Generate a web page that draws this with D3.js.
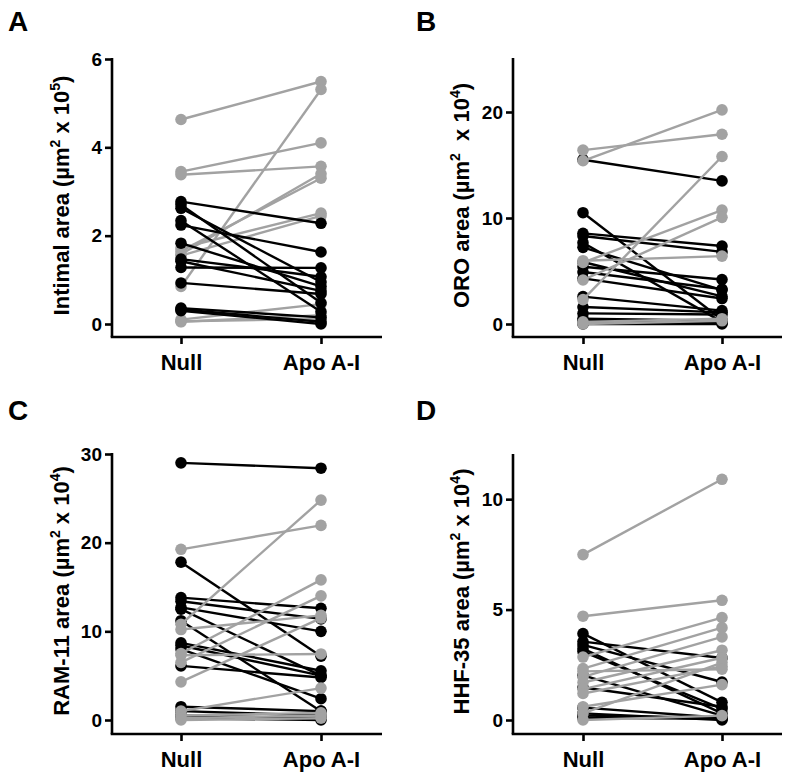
<!DOCTYPE html>
<html>
<head>
<meta charset="utf-8">
<script src="https://cdn.jsdelivr.net/npm/d3@7"></script>
<style>
  html, body { margin: 0; padding: 0; background: #fff; }
  svg { display: block; }
  text { font-family: "Liberation Sans", Arial, sans-serif; }
</style>
</head>
<body>
<svg id="chart" width="800" height="778"></svg>
<script>
// ---------------- DATA ----------------
const categories = ["Null", "Apo A-I"];

// Panel A: Intimal area (µm² x 10^5)
const intimalNull  = [4.63, 3.45, 3.38, 0.85, 1.65, 1.58, 1.72, 1.55, 0.10, 0.06, 0.05,
                      2.77, 2.70, 2.62, 2.34, 2.24, 1.83, 1.47, 1.42, 1.28, 0.93, 0.36, 0.33, 0.30];
const intimalApo   = [5.49, 4.10, 3.57, 5.31, 3.30, 3.40, 2.51, 2.45, 0.45, 0.12, 0.20,
                      2.28, 0.48, 0.95, 0.28, 1.63, 0.85, 1.07, 0.75, 1.27, 0.68, 0.15, 0.05, 0.00];
const intimalGroup = ["up","up","up","up","up","up","up","up","up","up","up",
                      "down","down","down","down","down","down","down","down","down","down","down","down","down"];
const intimalTicks = [0, 2, 4, 6];

// Panel B: ORO area (µm² x 10^4)
const oroNull  = [16.4, 15.4, 2.3, 5.8, 4.15, 5.97, 0.0, 0.2,
                  15.5, 10.5, 8.55, 8.3, 7.67, 7.23, 5.85, 5.4, 4.9, 4.3, 2.58, 1.6, 1.0, 0.5, 0.3, 0.0];
const oroApo   = [17.9, 20.2, 15.8, 10.75, 10.06, 6.4, 0.3, 0.5,
                  13.5, 0.4, 7.36, 6.8, 0.2, 3.2, 2.6, 4.2, 3.3, 2.4, 1.26, 1.1, 0.9, 0.3, 0.1, 0.0];
const oroGroup = ["up","up","up","up","up","up","up","up",
                  "down","down","down","down","down","down","down","down","down","down","down","down","down","down","down","down"];
const oroTicks = [0, 10, 20];

// Panel C: RAM-11 area (µm² x 10^4)
const ramNull  = [19.25, 10.8, 7.5, 6.5, 7.3, 4.3, 1.0, 0.5, 0.2, 0.0, 10.2,
                  29.0, 17.8, 13.8, 13.4, 12.7, 12.5, 11.2, 8.7, 8.4, 8.0, 6.1, 1.5, 1.0, 0.5, 0.2];
const ramApo   = [21.95, 24.8, 15.8, 14.0, 7.45, 11.5, 3.6, 0.8, 0.5, 0.2, 11.8,
                  28.4, 7.2, 12.6, 11.4, 10.0, 5.0, 1.0, 5.55, 5.0, 2.4, 4.8, 1.0, 0.5, 0.2, 0.0];
const ramGroup = ["up","up","up","up","up","up","up","up","up","up","up",
                  "down","down","down","down","down","down","down","down","down","down","down","down","down","down","down"];
const ramTicks = [0, 10, 20, 30];

// Panel D: HHF-35 area (µm² x 10^4)
const hhfNull  = [7.49, 4.7, 2.85, 2.33, 1.95, 1.7, 1.4, 1.2, 0.6, 0.3, 0.0, 2.2,
                  3.91, 3.55, 3.4, 3.23, 3.1, 2.02, 1.47, 0.56, 0.3, 0.1, 0.2];
const hhfApo   = [10.9, 5.42, 4.64, 4.18, 3.76, 3.16, 2.82, 2.43, 1.6, 2.6, 0.2, 2.3,
                  0.8, 2.81, 1.72, 0.3, 0.5, 0.2, 0.6, 0.1, 0.0, 0.05, 0.1];
const hhfGroup = ["up","up","up","up","up","up","up","up","up","up","up","up",
                  "down","down","down","down","down","down","down","down","down","down","down"];
const hhfTicks = [0, 5, 10];

const groupColor = { up: "#a2a2a2", down: "#000000" };

// ---------------- LAYOUT ----------------
const panels = [
  { letter: "A", name: "Intimal area", sup1: "2", mid: " x 10", sup2: "5",
    nullV: intimalNull, apoV: intimalApo, grp: intimalGroup, ticks: intimalTicks, yMax: 6,
    left: 112, right: 382, zeroY: 324, topY: 59, axisY: 337, xs: [181, 321],
    titleX: 69, letterX: 8, letterY: 31, order: ["up", "down"] },
  { letter: "B", name: "ORO area", sup1: "2", mid: "  x 10", sup2: "4",
    nullV: oroNull, apoV: oroApo, grp: oroGroup, ticks: oroTicks, yMax: 25,
    left: 513, right: 782, zeroY: 324, topY: 59, axisY: 337, xs: [583, 722],
    titleX: 469, letterX: 416, letterY: 31, order: ["down", "up"] },
  { letter: "C", name: "RAM-11 area", sup1: "2", mid: " x 10", sup2: "4",
    nullV: ramNull, apoV: ramApo, grp: ramGroup, ticks: ramTicks, yMax: 30,
    left: 112, right: 382, zeroY: 720, topY: 454, axisY: 734, xs: [181, 321],
    titleX: 69, letterX: 8, letterY: 420, order: ["down", "up"] },
  { letter: "D", name: "HHF-35 area", sup1: "2", mid: " x 10", sup2: "4",
    nullV: hhfNull, apoV: hhfApo, grp: hhfGroup, ticks: hhfTicks, yMax: 12,
    left: 513, right: 782, zeroY: 720, topY: 455, axisY: 734, xs: [583, 722],
    titleX: 469, letterX: 416, letterY: 420, order: ["down", "up"] }
];

const svg = d3.select("#chart");
const AX_W = 2.6, LINE_W = 2.4, R = 5.8;

panels.forEach(p => {
  const g = svg.append("g");
  const x = d3.scalePoint().domain(categories).range(p.xs);
  const y = d3.scaleLinear().domain([0, p.yMax]).range([p.zeroY, p.topY]);

  // data lines + points
  const rows = p.nullV.map((v, i) => ({ a: v, b: p.apoV[i], g: p.grp[i] }));
  p.order.forEach(grp => {
    rows.filter(r => r.g === grp).forEach(r => {
      g.append("line")
        .attr("x1", x(categories[0])).attr("y1", y(r.a))
        .attr("x2", x(categories[1])).attr("y2", y(r.b))
        .attr("stroke", groupColor[r.g]).attr("stroke-width", LINE_W);
      g.append("circle").attr("cx", x(categories[0])).attr("cy", y(r.a)).attr("r", R).attr("fill", groupColor[r.g]);
      g.append("circle").attr("cx", x(categories[1])).attr("cy", y(r.b)).attr("r", R).attr("fill", groupColor[r.g]);
    });
  });

  // y axis
  const yAx = g.append("g").attr("transform", `translate(${p.left},0)`)
    .call(d3.axisLeft(y).tickValues(p.ticks).tickFormat(d3.format("d"))
      .tickSize(7).tickPadding(3).tickSizeOuter(0));
  yAx.select(".domain").remove();
  yAx.append("line").attr("x1", 0).attr("x2", 0).attr("y1", y(p.yMax) - 1).attr("y2", p.axisY)
    .attr("stroke", "#000").attr("stroke-width", AX_W);
  yAx.selectAll(".tick line").attr("stroke", "#000").attr("stroke-width", AX_W);
  yAx.selectAll(".tick text").attr("font-size", 19).attr("font-weight", "bold")
    .attr("font-family", "Liberation Sans, Arial, sans-serif").attr("fill", "#000");

  // x axis
  const xAx = g.append("g").attr("transform", `translate(0,${p.axisY})`)
    .call(d3.axisBottom(x).tickSize(7).tickPadding(10).tickSizeOuter(0));
  xAx.select(".domain").remove();
  xAx.append("line").attr("x1", p.left - AX_W / 2).attr("x2", p.right).attr("y1", 0).attr("y2", 0)
    .attr("stroke", "#000").attr("stroke-width", AX_W);
  xAx.selectAll(".tick line").attr("stroke", "#000").attr("stroke-width", AX_W);
  xAx.selectAll(".tick text").attr("font-size", 22).attr("font-weight", "bold")
    .attr("font-family", "Liberation Sans, Arial, sans-serif").attr("fill", "#000");

  // y title
  const cy = (p.zeroY + p.topY) / 2 + 4;
  const t = svg.append("text")
    .attr("transform", `translate(${p.titleX},${cy}) rotate(-90)`)
    .attr("text-anchor", "middle")
    .attr("font-size", 22).attr("font-weight", "bold").attr("fill", "#000")
    .style("white-space", "pre");
  t.append("tspan").text(p.name + " (\u00b5m");
  t.append("tspan").attr("font-size", 14).attr("dy", -9).text(p.sup1);
  t.append("tspan").attr("dy", 9).text(p.mid);
  t.append("tspan").attr("font-size", 14).attr("dy", -9).text(p.sup2);
  t.append("tspan").attr("dy", 9).text(")");

  // panel letter
  svg.append("text").attr("x", p.letterX).attr("y", p.letterY)
    .attr("font-size", 28).attr("font-weight", "bold").attr("fill", "#000").text(p.letter);
});
</script>
</body>
</html>
